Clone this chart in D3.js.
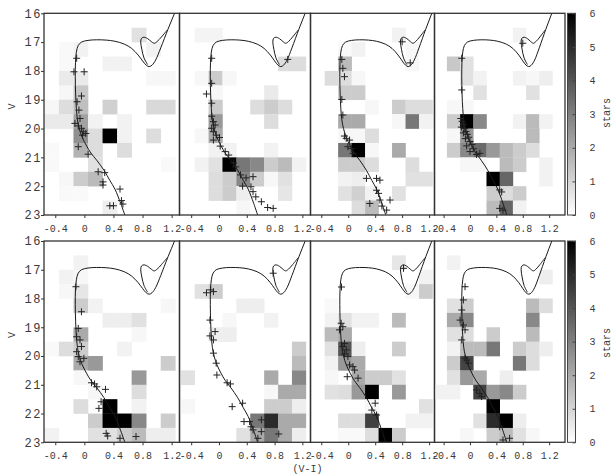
<!DOCTYPE html>
<html>
<head>
<meta charset="utf-8">
<script src="https://cdn.jsdelivr.net/npm/d3@7"></script>
<style>
body { margin: 0; background: #fff; }
svg text { font-family: "Liberation Mono", "DejaVu Sans Mono", monospace; fill: #3a3a3a; }
</style>
</head>
<body>
<div id="chart"></div>
<script>
// ---- data ----
// (V-I) bin left edges (0.2 wide) and V bin top edges (0.5 mag)
var colorBins = [-0.55, -0.35, -0.15, 0.05, 0.25, 0.45, 0.65, 0.85, 1.05, 1.25];
var magBins = [16, 16.5, 17, 17.5, 18, 18.5, 19, 19.5, 20, 20.5, 21, 21.5, 22, 22.5];
var colorStep = 0.2, magStep = 0.5;

var xTicks = [-0.4, 0, 0.4, 0.8, 1.2];
var yTicks = [16, 17, 18, 19, 20, 21, 22, 23];
var cbTicks = [0, 1, 2, 3, 4, 5, 6];

// isochrone, main sequence -> turnoff -> subgiant -> red giant branch
var isochrone = [
    [0.57, 23.1], [0.50, 22.6], [0.42, 22.1], [0.35, 21.8], [0.27, 21.45],
    [0.17, 21.1], [0.09, 20.85], [0.03, 20.6], [-0.03, 20.3], [-0.07, 20.0],
    [-0.095, 19.7], [-0.11, 19.3], [-0.12, 18.8], [-0.125, 18.2], [-0.122, 17.7],
    [-0.11, 17.35], [-0.085, 17.12], [-0.04, 17.0], [0.05, 16.94], [0.17, 16.92],
    [0.30, 16.93], [0.42, 16.97], [0.55, 17.07], [0.65, 17.22], [0.74, 17.45],
    [0.80, 17.65], [0.85, 17.8], [0.89, 17.85], [0.93, 17.8], [0.98, 17.62],
    [1.05, 17.2], [1.15, 16.55], [1.24, 16.0], [1.32, 15.5]
];
// clump loop and AGB
var hbBranch = [
    [0.87, 17.78], [0.82, 17.55], [0.79, 17.25], [0.775, 17.0], [0.785, 16.87],
    [0.82, 16.83], [0.87, 16.88], [0.92, 16.98], [0.96, 17.04], [1.0, 16.98],
    [1.06, 16.82], [1.14, 16.58]
];

// star counts per cell, rows = V bins (top down), cols = colour bins
var countsTop1 = [
    [0,0,0,0,0,0,0,0,0,0],
    [0,0,0,0,0,0,0.7,0,0,0],
    [0,0.15,0.3,0,0,0,0,0.3,0,0],
    [0,0.15,0,0,0.3,0.3,0,0,0,0],
    [0,0.5,0.5,0,0,0,0,0.2,0.2,0],
    [0,0.2,1.3,0,0,0,0,0,0,0],
    [0.2,0.8,1.5,0,1.1,0,0,0.9,0.9,0],
    [0.5,0.5,2.2,0.3,0,0.3,0,0,0,0],
    [0,0,2.6,0.8,6,0.3,0,0.8,0,0],
    [0.15,0,1.8,0.8,0,0.8,0,0,0,0],
    [0.15,0,0,0.7,0,0,0,0,0.15,0],
    [0,0.2,1.2,1.6,0,0,0,0,0,0],
    [0,0.15,0.15,0,0,0,0,0,0,0],
    [0,0,0,0,0.4,0,0,0,0,0]
];
var countsTop2 = [
    [0,0,0,0,0,0,0,0,0,0],
    [0,0.25,0.25,0,0,0,0,0,0,0],
    [0,0,0,0,0,0,0,0,0,0],
    [0,0,0,0,0,0,0,0.8,0.8,0],
    [0,0.2,1.2,0.2,0,0,0,0,0,0],
    [0,0,0.2,0,0,0,0.5,0,0,0],
    [0,0,1.2,0,0,0.8,1.2,0.8,0,0],
    [0,0,2.4,0,0,0,0.8,0,0,0],
    [0,0.2,2.0,0,0,0,0,0,0,0],
    [0,0,0.3,0.3,0,0,0.3,0,0,0],
    [0,0.3,0.7,6,3.2,2.8,1.2,1.6,0.3,0],
    [0,0,0.8,1.2,2.8,1.2,0.2,0.7,0,0],
    [0,0,0.8,1.2,0.4,0,0,0.6,0,0],
    [0,0,0,0,0.2,0,0,0,0,0]
];
var countsTop3 = [
    [0,0,0,0,0,0,0,0,0,0],
    [0,0,0,0,0,0,0.3,0,0,0],
    [0,0,0.15,0.3,0,0,0,0.2,0,0],
    [0,0,1.6,0,0,0,0,0.2,0,0],
    [0,0.8,0.8,0.2,0,0,0,0,0,0],
    [0,0,1.2,1.2,0,0,0,0,0,0],
    [0,0,0,0,0.2,0,1.2,0.8,0.8,0],
    [0,0,2,2,0,0,0.2,3.2,0.3,0],
    [0,0,0.2,0.2,0.8,0,0,0,0,0],
    [0,0,3.2,6,0.2,0,2,0,0,0],
    [0,0,1.2,1.2,0.8,0,0,0.8,0,0],
    [0,0,0.3,0.4,0,0,0,0.7,0.7,0],
    [0,0,0.7,1.1,0.3,0,0.7,0,0,0],
    [0,0,0,0.8,1.6,0,0,0,0,0]
];
var countsTop4 = [
    [0,0,0,0,0,0,0,0,0,0],
    [0,0,0,0,0,0,0.3,0,0,0],
    [0,0,0,0,0,0,0,0,0,0],
    [0,1.3,0.7,0,0,0,0,0,0,0],
    [0,0,0.7,0.3,0,0,0.3,0.2,0.4,0],
    [0,0,0,0.7,0,0,0,0.7,0,0],
    [0,0.2,0.2,0,0,0,0,0,0,0],
    [0,1.2,6,2.8,0,0,0.3,1.6,0.3,0],
    [0,0.2,2.4,0,0,0,0,1.6,0,0],
    [0,1.2,2.8,3.5,2.4,1.6,1.2,0.8,0,0],
    [0,0,0.2,0.2,0,1.6,1.2,0,0.3,0],
    [0,0,0,0,6,3.6,0,0,0.3,0],
    [0,0,0,0,1.2,0.8,1.2,0,0,0],
    [0,0,0,0,1.6,3.6,0.3,0,0,0]
];
var countsBot1 = [
    [0,0,0,0,0,0,0,0,0,0],
    [0,0,0.3,0,0,0,0,0,0,0],
    [0,0.3,0.2,0,0,0,0,0,0,0],
    [0,0.2,0.6,0,0,0,0,0,0,0],
    [0,0,1.2,0.3,0,0,0,0,0.2,0],
    [0,0,0,0,0.4,0.4,0.7,0,0,0],
    [0,0,2,0,0,0,0.2,0,0,0],
    [0.15,0.8,1.2,0,0,0.3,0,0,0,0],
    [0,0,2,2.4,0,0,0,0,1.2,0],
    [0,0,0.2,0,0,0,2.4,0,0,0],
    [0,0,0,0.2,0,0,0.8,0,0,0],
    [0,0,0.8,0,6,0,0.3,0,0,0],
    [0,0,0,1.2,6,6,2.8,0,1.2,0],
    [0.3,0,0,0.7,0.7,1.2,1.6,0.4,0.4,0]
];
var countsBot2 = [
    [0,0,0,0,0,0,0,0,0,0],
    [0,0,0,0,0,0,0,0,0,0],
    [0,0,0,0,0,0,0,0,0,0],
    [0,0.7,1.2,0,0,0,0,0,0,0],
    [0,0,0,0,0.4,0.4,0,0,0,0],
    [0,0,0,0.2,0,0,0.3,0,0,0],
    [0,0,0.4,0.4,0,0,0,0,0,0],
    [0,0,0,0,0,0,0,0,1.2,0],
    [0,0,0,0,0,0,0,0,1.6,0],
    [0.7,0,0,0,0,0,2,0,2.8,0],
    [0,0,0,0,0,0,0.2,2,2,0],
    [0.2,0,0,0,0,0,1.2,1.2,0.4,0],
    [0,0,0,0,0,3.2,5,2,2,0],
    [0,0,0,0,0.7,2,3.2,2,0.4,0]
];
var countsBot3 = [
    [0,0,0,0,0,0,0,0,0,0],
    [0,0,0,0,0,0,0.6,0,0,0],
    [0,0,0,0,0,0,0,0,0.3,0],
    [0,0,0,0,0,0,0,0.2,1.2,0],
    [0,0.15,0,0,0,0,0,0,0,0],
    [0,0.3,0.7,0.3,0.3,0,1.6,0,0,0],
    [0,1.6,2,0,0,0,0,0,0,0],
    [0,0.7,4,0.4,0,0,1.2,0,0,0],
    [0,0.3,2.4,2,0,0,0,0,0,0],
    [0,0.2,0,2,1.2,1.2,0.7,0,0,0],
    [0,0.7,0.8,2.4,6,0,2.4,0,0,0],
    [0,0,0,0,0.2,0,0,0,0.7,0],
    [0,0,0.8,0.8,4.5,0,0,0.3,0.3,0],
    [0,0,0.15,0.15,0.8,6,1.2,0,0,0]
];
var countsBot4 = [
    [0,0,0,0,0,0,0,0,0,0],
    [0,0.3,0,0,0,0,0,0,0,0],
    [0,0,0,0,0,0,0,0,0.4,0],
    [0,0,0,0,0,0,0,0,0,0],
    [0,0.7,1.2,0,0,0,0,1.6,0.8,0],
    [0,2,2.8,0,0,0,0,2.8,0,0],
    [0,0.7,0.8,0,1.2,0,0,1.6,0,0],
    [0,0.3,1.6,1.6,3.2,0,1.2,0.8,0.4,0],
    [0,1.2,4.4,0,0,0,3.2,0.8,0,0],
    [0,0.7,2.4,2,0,0.4,0,0,0,0],
    [0.3,0.3,0,4.5,2.4,2.8,1.2,0,0,0],
    [0,0,0,0,6,0,0,0,0,0],
    [0,0,0,0.7,5,6,0.4,0,0,0],
    [0,0,0.2,0,1.2,1.6,0.7,0.2,0,0]
];

// member stars, [V-I, V]
var starsTop1 = [[-0.106,17.56],[-0.143,18.03],[-0.003,18.03],[-0.04,18.87],[-0.1,19.07],[-0.075,19.36],[-0.06,19.65],[-0.13,19.82],[-0.084,19.91],[-0.04,19.99],[-0.016,20.11],[0.02,20.17],[-0.025,20.23],[-0.084,20.63],[0.052,20.89],[0.19,21.5],[0.28,21.53],[0.256,21.85],[0.256,21.96],[0.49,22.1],[0.51,22.5],[0.53,22.62],[0.35,22.68],[0.40,22.68]];
var starsTop2 = [[-0.105,17.56],[-0.105,18.43],[-0.18,18.8],[-0.105,19.12],[-0.105,19.57],[-0.08,19.76],[-0.056,19.88],[-0.105,19.99],[-0.08,20.11],[-0.04,20.23],[0.007,20.31],[-0.08,20.4],[0.018,20.61],[0.09,20.8],[0.14,20.92],[0.21,21.19],[0.24,21.33],[0.31,21.61],[0.39,21.71],[0.49,21.67],[0.34,22.0],[0.46,22.02],[0.49,22.19],[0.53,22.37],[0.61,22.54],[0.7,22.74],[0.78,22.77],[0.99,17.6]];
var starsTop3 = [[0.80,16.99],[0.92,17.72],[-0.095,17.6],[-0.08,17.91],[-0.056,18.2],[-0.095,18.99],[-0.08,19.53],[-0.056,20.26],[-0.03,20.34],[0.02,20.4],[-0.005,20.63],[0.045,20.69],[0.07,20.86],[0.27,21.73],[0.42,21.73],[0.47,21.79],[0.42,22.14],[0.45,22.25],[0.32,22.6],[0.47,22.48],[0.62,22.48],[0.50,22.69],[0.57,22.83]];
var starsTop4 = [[0.80,17.04],[-0.125,17.56],[-0.125,18.66],[-0.14,19.65],[-0.12,19.75],[-0.10,19.85],[-0.13,19.95],[-0.08,20.0],[-0.06,20.1],[-0.1,20.15],[-0.04,20.2],[-0.02,20.3],[-0.07,20.35],[0.0,20.45],[0.03,20.55],[-0.05,20.6],[0.05,20.7],[0.0,20.8],[0.15,20.86],[0.1,20.9],[0.45,22.13],[0.48,22.2],[0.45,22.77],[0.5,22.83]];
var starsBot1 = [[-0.116,17.59],[-0.04,18.46],[-0.084,19.04],[-0.106,19.33],[-0.06,19.44],[-0.04,19.67],[-0.106,19.85],[-0.084,20.02],[-0.007,20.08],[-0.06,20.2],[0.098,20.93],[0.14,20.97],[0.17,21.07],[0.29,21.16],[0.23,21.59],[0.2,21.82],[0.30,22.69],[0.32,22.78],[0.49,22.86],[0.71,22.8]];
var starsBot2 = [[0.78,17.12],[-0.18,17.8],[-0.12,17.7],[-0.08,17.76],[-0.13,18.75],[-0.056,19.15],[-0.13,19.3],[-0.08,19.44],[-0.08,19.9],[-0.04,20.25],[-0.03,20.66],[0.117,20.93],[0.165,20.97],[0.34,21.64],[0.19,21.76],[0.36,22.28],[0.44,22.28],[0.46,22.46],[0.49,22.57],[0.61,22.22],[0.61,22.63],[0.56,22.86],[0.86,22.71]];
var starsBot3 = [[0.82,16.95],[-0.1,17.6],[-0.105,18.86],[-0.08,18.98],[-0.13,19.09],[-0.056,19.56],[-0.08,19.67],[-0.03,19.79],[-0.056,19.93],[-0.005,20.02],[0.02,20.31],[0.07,20.37],[0.095,20.49],[-0.015,20.72],[0.146,20.77],[0.40,21.64],[0.35,21.88],[0.42,22.05]];
var starsBot4 = [[-0.075,17.59],[-0.1,18.05],[-0.125,18.4],[-0.15,18.75],[-0.1,18.92],[-0.075,19.09],[-0.125,19.44],[-0.075,20.08],[-0.05,20.14],[-0.025,20.25],[0.1,21.18],[0.15,21.3],[0.175,21.41],[0.45,22.46],[0.5,22.92],[0.6,22.86]];

// ---- layout ----
var panelEdges = [44, 179.5, 310.5, 434.5, 565];
var xDomains = [[-0.555, 1.308], [-0.568, 1.317], [-0.56, 1.28], [-0.538, 1.44]];
var rowTops = [13.3, 241];
var rowBottoms = [215, 442.3];

var panels = [
    {row: 0, col: 0, counts: countsTop1, stars: starsTop1},
    {row: 0, col: 1, counts: countsTop2, stars: starsTop2},
    {row: 0, col: 2, counts: countsTop3, stars: starsTop3},
    {row: 0, col: 3, counts: countsTop4, stars: starsTop4},
    {row: 1, col: 0, counts: countsBot1, stars: starsBot1},
    {row: 1, col: 1, counts: countsBot2, stars: starsBot2},
    {row: 1, col: 2, counts: countsBot3, stars: starsBot3},
    {row: 1, col: 3, counts: countsBot4, stars: starsBot4}
];

var svg = d3.select("#chart").append("svg")
    .attr("width", 611)
    .attr("height", 474);

var grey = d3.scaleLinear().domain([0, 6]).range(["#ffffff", "#000000"]);
var defs = svg.append("defs");

var grad = defs.append("linearGradient")
    .attr("id", "cbGrad")
    .attr("x1", 0).attr("y1", 1).attr("x2", 0).attr("y2", 0);
grad.selectAll("stop")
    .data(cbTicks)
    .enter().append("stop")
    .attr("offset", function(d) { return d / 6; })
    .attr("stop-color", function(d) { return grey(d); });

function fmtTick(d) { return String(d); }

panels.forEach(function(p, i) {
    var x = d3.scaleLinear().domain(xDomains[p.col]).range([panelEdges[p.col], panelEdges[p.col + 1]]);
    var y = d3.scaleLinear().domain([16, 23]).range([rowTops[p.row], rowBottoms[p.row]]);

    defs.append("clipPath").attr("id", "clip" + i)
        .append("rect")
        .attr("x", x.range()[0]).attr("y", y.range()[0])
        .attr("width", x.range()[1] - x.range()[0])
        .attr("height", y.range()[1] - y.range()[0]);

    var g = svg.append("g").attr("clip-path", "url(#clip" + i + ")");

    var cells = [];
    p.counts.forEach(function(row, r) {
        row.forEach(function(v, k) {
            if (v > 0) cells.push({k: k, r: r, v: v});
        });
    });

    g.selectAll("rect.cell")
        .data(cells)
        .enter().append("rect")
        .attr("class", "cell")
        .attr("x", function(d) { return x(colorBins[d.k]); })
        .attr("y", function(d) { return y(magBins[d.r]); })
        .attr("width", function(d) { return x(colorBins[d.k] + colorStep) - x(colorBins[d.k]) + 0.3; })
        .attr("height", function(d) { return y(magBins[d.r] + magStep) - y(magBins[d.r]) + 0.3; })
        .attr("fill", function(d) { return grey(d.v); });

    var line = d3.line()
        .x(function(d) { return x(d[0]); })
        .y(function(d) { return y(d[1]); })
        .curve(d3.curveCatmullRom.alpha(0.5));

    [isochrone, hbBranch].forEach(function(track) {
        g.append("path")
            .datum(track)
            .attr("d", line)
            .attr("fill", "none")
            .attr("stroke", "#1a1a1a")
            .attr("stroke-width", 1);
    });

    g.selectAll("path.star")
        .data(p.stars)
        .enter().append("path")
        .attr("class", "star")
        .attr("transform", function(d) { return "translate(" + x(d[0]) + "," + y(d[1]) + ")"; })
        .attr("d", "M-3.5,0H3.5M0,-3.5V3.5")
        .attr("stroke", "#222")
        .attr("stroke-width", 1);

    // frame
    svg.append("rect")
        .attr("x", x.range()[0]).attr("y", y.range()[0])
        .attr("width", x.range()[1] - x.range()[0])
        .attr("height", y.range()[1] - y.range()[0])
        .attr("fill", "none")
        .attr("stroke", "#333")
        .attr("stroke-width", 1.3);

    var xa = svg.append("g")
        .attr("transform", "translate(0," + y.range()[1] + ")")
        .call(d3.axisBottom(x).tickValues(xTicks).tickSize(3).tickPadding(7).tickFormat(fmtTick));
    xa.select(".domain").remove();
    xa.selectAll("line").attr("stroke", "#333");
    xa.selectAll("text").attr("font-family", null).style("font-size", "10px");

    if (p.col === 0) {
        var ya = svg.append("g")
            .attr("transform", "translate(" + x.range()[0] + ",0)")
            .call(d3.axisLeft(y).tickValues(yTicks).tickSize(3).tickFormat(fmtTick));
        ya.select(".domain").remove();
        ya.selectAll("line").attr("stroke", "#333");
        ya.selectAll("text")
            .attr("x", -2)
            .style("font-size", "12px")
            .style("letter-spacing", "1.5px");

        svg.append("text")
            .attr("transform", "translate(15," + (p.row === 0 ? 106.5 : 335) + ") rotate(-90)")
            .attr("text-anchor", "middle")
            .style("font-size", "10px")
            .text("V");
    }

    if (p.col === 3) {
        var cb = d3.scaleLinear().domain([0, 6]).range([y.range()[1], y.range()[0]]);
        svg.append("rect")
            .attr("x", 567.5).attr("y", cb.range()[1])
            .attr("width", 8)
            .attr("height", cb.range()[0] - cb.range()[1])
            .attr("fill", "url(#cbGrad)")
            .attr("stroke", "#444")
            .attr("stroke-width", 1);
        var ca = svg.append("g")
            .attr("transform", "translate(575.5,0)")
            .call(d3.axisRight(cb).tickValues(cbTicks).tickSize(-3).tickPadding(14).tickFormat(fmtTick));
        ca.select(".domain").remove();
        ca.selectAll("line").attr("stroke", "#444");
        ca.selectAll("text").style("font-size", "10px");

        svg.append("text")
            .attr("transform", "translate(609.5," + (p.row === 0 ? 113 : 343) + ") rotate(-90)")
            .attr("text-anchor", "middle")
            .style("font-size", "10px")
            .text("stars");
    }
});

svg.append("text")
    .attr("x", 307.5)
    .attr("y", 472)
    .attr("text-anchor", "middle")
    .style("font-size", "10px")
    .text("(V-I)");
</script>
</body>
</html>
